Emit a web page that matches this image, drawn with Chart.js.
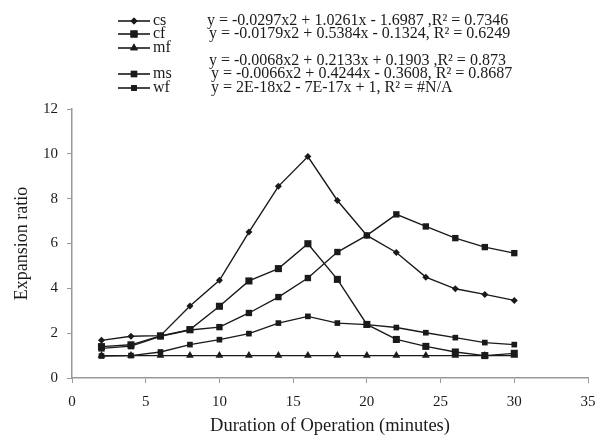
<!DOCTYPE html>
<html lang="en">
  <head>
    <meta charset="UTF-8" />
    <title>Expansion ratio vs duration of operation</title>
    <script src="https://cdn.jsdelivr.net/npm/chart.js"></script>
    <style>
      html, body { margin: 0; padding: 0; background: #fff; }
      .box { position: relative; width: 612px; height: 438px; }
    </style>
  </head>
  <body>
    <div class="box">
      <canvas id="grafico" width="612" height="438"></canvas>
    </div>

    <script>
      // data
      const minutes = [2, 4, 6, 8, 10, 12, 14, 16, 18, 20, 22, 24, 26, 28, 30];
      const cs = [1.68, 1.86, 1.89, 3.21, 4.36, 6.51, 8.55, 9.88, 7.92, 6.36, 5.6, 4.5, 3.98, 3.73, 3.46];
      const cf = [1.4, 1.48, 1.88, 2.16, 3.2, 4.33, 4.88, 5.99, 4.4, 2.39, 1.72, 1.41, 1.16, 1.0, 1.1];
      const mf = [1, 1, 1, 1, 1, 1, 1, 1, 1, 1, 1, 1, 1, 1, 1];
      const ms = [1.32, 1.42, 1.86, 2.14, 2.27, 2.9, 3.61, 4.46, 5.62, 6.36, 7.3, 6.76, 6.24, 5.84, 5.57];
      const wf = [0.98, 1.0, 1.16, 1.49, 1.71, 1.98, 2.45, 2.75, 2.45, 2.38, 2.25, 2.02, 1.8, 1.58, 1.49];

      const seriesNames = ["cs", "cf", "mf", "ms", "wf"];
      const equations = [
        "y = -0.0297x2 + 1.0261x - 1.6987 ,R\u00b2 = 0.7346",
        "y = -0.0179x2 + 0.5384x - 0.1324, R\u00b2 = 0.6249",
        "y = -0.0068x2 + 0.2133x + 0.1903 ,R\u00b2 = 0.873",
        "y = -0.0066x2 + 0.4244x - 0.3608, R\u00b2 = 0.8687",
        "y = 2E-18x2 - 7E-17x + 1, R\u00b2 = #N/A",
      ];
      const xTicks = [0, 5, 10, 15, 20, 25, 30, 35];
      const yTicks = [0, 2, 4, 6, 8, 10, 12];

      const fonte = "'Liberation Serif', 'Times New Roman', serif";
      const preto = "#1a1a1a";

      function pontos(valores) {
        return minutes.map((m, i) => ({ x: m, y: valores[i] }));
      }

      const estilos = [
        { pointStyle: "rectRot", radius: 3.5 },
        { pointStyle: "rect", radius: 5 },
        { pointStyle: "triangle", radius: 4.5 },
        { pointStyle: "rect", radius: 4.5 },
        { pointStyle: "rect", radius: 4 },
      ];
      const valores = [cs, cf, mf, ms, wf];

      const datasets = valores.map((v, i) => ({
        label: seriesNames[i],
        data: pontos(v),
        borderColor: preto,
        backgroundColor: preto,
        borderWidth: 1.4,
        pointStyle: estilos[i].pointStyle,
        pointRadius: estilos[i].radius,
        pointBorderWidth: 0,
        tension: 0,
        fill: false,
      }));

      // legend rows: sample line y, equation x / y
      const linhasLegenda = [
        { y: 21, ey: 21, ex: 207 },
        { y: 34, ey: 34, ex: 209 },
        { y: 48, ey: 61, ex: 209 },
        { y: 74, ey: 74, ex: 211 },
        { y: 88, ey: 88, ex: 211 },
      ];

      const legendaCustom = {
        id: "legendaCustom",
        afterDraw(chart) {
          const ctx = chart.ctx;
          ctx.save();
          chart.data.datasets.forEach((ds, i) => {
            const l = linhasLegenda[i];
            ctx.strokeStyle = preto;
            ctx.fillStyle = preto;
            ctx.lineWidth = 1.6;
            ctx.beginPath();
            ctx.moveTo(118, l.y);
            ctx.lineTo(150, l.y);
            ctx.stroke();
            Chart.helpers.drawPoint(
              ctx,
              { pointStyle: ds.pointStyle, radius: ds.pointRadius, rotation: 0, borderWidth: 0 },
              134,
              l.y
            );
            ctx.fill();
            ctx.font = "16px " + fonte;
            ctx.textBaseline = "middle";
            ctx.textAlign = "left";
            ctx.fillText(ds.label, 153, l.y);
            ctx.fillText(equations[i], l.ex, l.ey);
          });
          ctx.restore();
        },
      };

      new Chart(document.getElementById("grafico"), {
        type: "line",
        data: { datasets: datasets },
        plugins: [legendaCustom],
        options: {
          responsive: false,
          animation: false,
          layout: { padding: { top: 109, right: 24, left: 0, bottom: 0 } },
          plugins: {
            legend: { display: false },
            tooltip: { enabled: false },
          },
          scales: {
            x: {
              type: "linear",
              min: 0,
              max: 35,
              afterBuildTicks: (axis) => {
                axis.ticks = xTicks.map((v) => ({ value: v }));
              },
              afterFit: (axis) => {
                axis.height = 60;
              },
              grid: {
                drawOnChartArea: false,
                color: "#999",
                tickLength: 5,
              },
              border: { color: "#999", width: 1.5 },
              ticks: { color: preto, font: { family: fonte, size: 15 }, padding: 10, maxRotation: 0 },
              title: {
                display: true,
                text: "Duration of Operation (minutes)",
                color: preto,
                font: { family: fonte, size: 18.5 },
                padding: { top: 0, bottom: 1 },
              },
            },
            y: {
              min: 0,
              max: 12,
              afterBuildTicks: (axis) => {
                axis.ticks = yTicks.map((v) => ({ value: v }));
              },
              afterFit: (axis) => {
                axis.width = 72;
              },
              grid: {
                drawOnChartArea: false,
                color: "#999",
                tickLength: 5,
              },
              border: { color: "#999", width: 1.5 },
              ticks: { color: preto, font: { family: fonte, size: 15 }, padding: 9 },
              title: {
                display: true,
                text: "Expansion ratio",
                color: preto,
                font: { family: fonte, size: 18 },
                padding: { top: 11, bottom: 0 },
              },
            },
          },
        },
      });
    </script>
  </body>
</html>
